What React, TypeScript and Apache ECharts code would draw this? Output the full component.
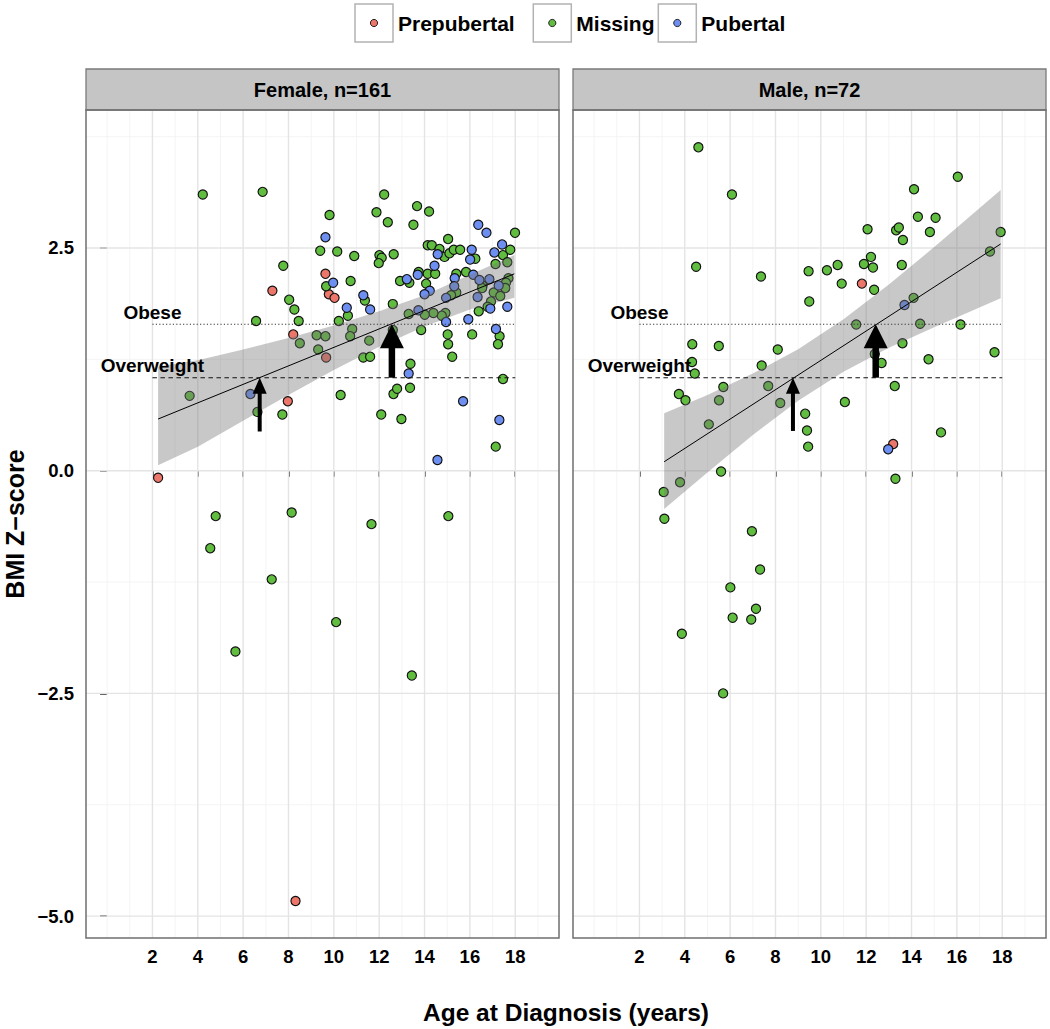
import React, { useEffect, useRef } from "react";
import * as echarts from "echarts";

// ---------- data ----------
const stageNames = ["Prepubertal", "Missing", "Pubertal"];
const stageColors = ["#EC7669", "#60BD3F", "#6D8FF2"];
const panelTitles = ["Female, n=161", "Male, n=72"];

const femalePrepubertal = [
  [9.63, 2.21], [7.29, 2.02], [9.78, 1.98], [10.03, 1.94], [8.21, 1.53],
  [9.66, 1.27], [7.97, 0.78], [2.25, -0.08], [8.31, -4.83],
];
const femaleMissing = [
  [4.22, 3.1], [6.86, 3.13], [9.81, 2.87], [9.4, 2.47], [7.77, 2.3], [9.66, 2.07], [8.03, 1.92], [8.26, 1.81],
  [8.45, 1.68], [6.57, 1.68], [8.5, 1.43], [9.24, 1.52], [9.63, 1.51], [9.31, 1.36], [3.64, 0.84], [6.63, 0.66],
  [7.73, 0.63], [4.79, -0.51], [4.55, -0.87], [8.14, -0.47], [11.66, -0.6], [15.05, -0.51], [17.14, 0.27],
  [7.26, -1.22], [10.1, -1.7], [5.66, -2.03], [13.44, -2.3],
  [12.22, 3.1], [11.88, 2.9], [12.38, 2.79], [13.67, 2.97], [14.2, 2.91], [13.51, 2.76], [10.15, 2.46],
  [10.9, 2.41], [12.01, 2.42], [12.11, 2.39], [11.98, 2.33], [12.64, 2.43], [10.74, 2.13], [11.37, 1.91],
  [10.62, 1.74], [10.22, 1.68], [10.81, 1.59], [10.72, 1.51], [11.56, 1.46], [11.3, 1.27], [11.6, 1.28],
  [12.6, 1.87], [12.6, 1.58], [10.3, 0.85], [12.09, 0.63], [12.63, 0.86], [12.79, 0.92], [12.98, 0.58],
  [13.38, 1.2], [13.36, 0.93], [12.92, 2.13], [13.33, 2.11], [13.74, 2.23], [14.14, 2.21], [14.47, 2.21],
  [14.07, 2.1], [14.14, 2.53], [14.32, 2.53], [14.66, 2.49], [15.04, 2.6], [14.88, 2.4], [15.1, 2.44],
  [15.29, 2.48], [15.57, 2.48], [16.24, 2.38], [17.99, 2.67], [17.46, 2.42], [17.78, 2.48], [17.13, 2.32],
  [17.65, 2.34], [15.4, 2.21], [15.4, 2.0], [15.17, 1.97], [15.83, 2.23], [16.56, 2.08], [16.54, 2.05],
  [17.7, 2.16], [17.59, 2.11], [17.56, 2.05], [17.05, 2.0], [17.34, 1.96], [16.93, 1.9], [16.78, 1.84],
  [16.39, 1.79], [16.1, 1.53], [15.02, 1.53], [15.04, 1.42], [15.22, 1.28], [14.92, 1.77], [14.76, 1.74],
  [14.39, 1.77], [14.01, 1.75], [13.3, 1.76], [13.85, 1.58], [17.31, 1.51], [17.24, 1.42], [17.46, 1.03],
];
const femalePubertal = [
  [9.63, 2.62], [6.32, 0.86], [14.57, 0.12], [9.97, 2.11], [11.3, 1.97], [11.6, 1.81], [10.57, 1.83],
  [13.3, 1.09], [13.22, 2.15], [13.7, 2.2], [14.23, 2.02], [14.0, 1.98], [14.44, 2.3], [14.58, 2.43],
  [16.08, 2.48], [16.01, 2.37], [16.37, 2.76], [16.73, 2.67], [17.42, 2.54], [17.08, 2.45], [15.33, 2.16],
  [15.31, 2.07], [14.95, 1.94], [16.15, 2.2], [16.42, 2.14], [16.86, 2.15], [17.27, 2.08], [16.34, 1.95],
  [16.9, 1.82], [17.65, 1.84], [15.93, 1.7], [14.95, 1.67], [13.73, 1.8], [17.15, 1.59], [15.7, 0.78],
  [17.3, 0.57],
];

const malePrepubertal = [[11.81, 2.1], [13.19, 0.3]];
const maleMissing = [
  [4.6, 3.63], [6.08, 3.1], [4.5, 2.29], [7.36, 2.18], [9.46, 2.24], [9.49, 1.9], [4.33, 1.42], [5.5, 1.4],
  [8.1, 1.36], [4.32, 1.22], [4.44, 1.09], [7.39, 1.18], [5.7, 0.94], [7.68, 0.95], [3.74, 0.86], [4.03, 0.79],
  [5.51, 0.79], [8.21, 0.76], [5.06, 0.52], [9.31, 0.64], [9.39, 0.45], [9.44, 0.27], [5.6, -0.01],
  [3.79, -0.13], [3.07, -0.24], [3.1, -0.54], [13.29, -0.09], [6.96, -0.68], [7.32, -1.11], [6.01, -1.31],
  [7.14, -1.55], [6.11, -1.65], [6.93, -1.67], [3.87, -1.83], [5.69, -2.5],
  [16.04, 3.3], [14.11, 3.16], [14.28, 2.85], [15.06, 2.84], [12.06, 2.71], [13.32, 2.7], [13.44, 2.73],
  [14.81, 2.68], [13.62, 2.59], [17.93, 2.68], [17.46, 2.46], [12.21, 2.4], [11.9, 2.32], [12.3, 2.28],
  [13.57, 2.31], [10.27, 2.25], [10.74, 2.31], [10.92, 2.1], [12.35, 2.03], [14.09, 1.94], [11.56, 1.64],
  [14.38, 1.65], [16.16, 1.64], [13.6, 1.43], [12.38, 1.31], [12.68, 1.21], [14.75, 1.25], [17.66, 1.33],
  [13.26, 0.95], [11.06, 0.77], [15.3, 0.43],
];
const malePubertal = [[13.69, 1.86], [12.97, 0.24]];

// linear fit (line) and its confidence band
const femaleFitX = [2.25, 17.96];
const femaleFitY = [0.58, 2.21];
const femaleBandX = [2.25, 4, 6, 8, 10, 12, 14, 16, 17.96];
const femaleBandLo = [0.06, 0.27, 0.56, 0.85, 1.13, 1.39, 1.62, 1.81, 1.94];
const femaleBandHi = [1.17, 1.24, 1.36, 1.49, 1.63, 1.79, 1.97, 2.2, 2.42];

const maleFitX = [3.09, 17.93];
const maleFitY = [0.1, 2.545];
const maleBandX = [3.09, 5, 7, 9, 11, 13, 15, 17.93];
const maleBandLo = [-0.43, -0.02, 0.4, 0.785, 1.11, 1.38, 1.61, 1.935];
const maleBandHi = [0.645, 0.85, 1.09, 1.363, 1.7, 2.09, 2.51, 3.15];

// reference thresholds
const obeseZ = 1.644;
const overweightZ = 1.044;
const refLineX = [2, 18];
const annotLabels = ["Obese", "Overweight"];
const annotX = [2, 2];
const annotY = [1.78, 1.18];

// arrows: [age, from z, to z]
const femaleArrows = [[6.73, 0.44, overweightZ], [12.56, overweightZ, obeseZ]];
const maleArrows = [[8.77, 0.446, overweightZ], [12.42, overweightZ, obeseZ]];

// axes
const xTicks = [2, 4, 6, 8, 10, 12, 14, 16, 18];
const xTickLabels = ["2", "4", "6", "8", "10", "12", "14", "16", "18"];
const xMinorGrid = [0, 1, 3, 5, 7, 9, 11, 13, 15, 17, 19];
const yTicks = [-5, -2.5, 0, 2.5];
const yTickLabels = ["\u22125.0", "\u22122.5", "0.0", "2.5"];
const yMinorGrid = [-3.75, -1.25, 1.25, 3.75];
const X_MIN = -0.93, X_MAX = 19.93, Y_MIN = -5.246, Y_MAX = 4.049;

const FONT = '"Liberation Sans", Arial, Helvetica, sans-serif';

// ---------- layout ----------
const PANEL_TOP = 110, PANEL_H = 828, PANEL_W = 473;
const PANEL_LEFT = [86, 573];
const STRIP_TOP = 69, STRIP_H = 41;

function buildOption() {
  const series: any[] = [];

  const vGrid = (gi: number, values: number[], color: string, width: number) => ({
    type: "custom", xAxisIndex: gi, yAxisIndex: gi, z: 1, silent: true, clip: true,
    data: values.map((v) => [v, 0]),
    renderItem: (_p: any, api: any) => {
      const v = api.value(0);
      const a = api.coord([v, Y_MIN]);
      const b = api.coord([v, Y_MAX]);
      return { type: "line", shape: { x1: a[0], y1: a[1], x2: b[0], y2: b[1] }, style: { stroke: color, lineWidth: width } };
    },
  });
  const hGrid = (gi: number, values: number[], color: string, width: number) => ({
    type: "custom", xAxisIndex: gi, yAxisIndex: gi, z: 1, silent: true, clip: true,
    data: values.map((v) => [0, v]),
    renderItem: (_p: any, api: any) => {
      const v = api.value(1);
      const a = api.coord([X_MIN, v]);
      const b = api.coord([X_MAX, v]);
      return { type: "line", shape: { x1: a[0], y1: a[1], x2: b[0], y2: b[1] }, style: { stroke: color, lineWidth: width } };
    },
  });

  const panels = [
    { groups: [femalePrepubertal, femaleMissing, femalePubertal], fitX: femaleFitX, fitY: femaleFitY,
      bandX: femaleBandX, bandLo: femaleBandLo, bandHi: femaleBandHi, arrows: femaleArrows },
    { groups: [malePrepubertal, maleMissing, malePubertal], fitX: maleFitX, fitY: maleFitY,
      bandX: maleBandX, bandLo: maleBandLo, bandHi: maleBandHi, arrows: maleArrows },
  ];

  panels.forEach((p, gi) => {
    series.push(vGrid(gi, xMinorGrid, "#f1f1f1", 0.8));
    series.push(hGrid(gi, yMinorGrid, "#f1f1f1", 0.8));
    series.push(vGrid(gi, xTicks, "#e4e4e4", 1.4));
    series.push(hGrid(gi, yTicks, "#e4e4e4", 1.4));

    p.groups.forEach((g, k) => {
      series.push({
        type: "scatter", name: stageNames[k], xAxisIndex: gi, yAxisIndex: gi, z: 3,
        data: g, symbol: "circle", symbolSize: 9.2,
        itemStyle: { color: stageColors[k], borderColor: "#111", borderWidth: 1.15, opacity: 1 },
      });
    });

    // confidence band (drawn above points, semi-transparent)
    series.push({
      type: "custom", xAxisIndex: gi, yAxisIndex: gi, z: 4, silent: true, clip: true,
      data: p.bandX.map((x, i) => [x, p.bandLo[i], p.bandHi[i]]),
      renderItem: (params: any, api: any) => {
        if (params.dataIndex !== 0) return null;
        const pts: number[][] = [];
        for (let i = 0; i < p.bandX.length; i++) pts.push(api.coord([p.bandX[i], p.bandHi[i]]));
        for (let i = p.bandX.length - 1; i >= 0; i--) pts.push(api.coord([p.bandX[i], p.bandLo[i]]));
        return { type: "polygon", shape: { points: pts }, style: { fill: "rgba(118,118,118,0.4)" } };
      },
    });

    // fit line
    series.push({
      type: "line", xAxisIndex: gi, yAxisIndex: gi, z: 5, silent: true, symbol: "none",
      data: p.fitX.map((x, i) => [x, p.fitY[i]]),
      lineStyle: { color: "#000", width: 1 },
    });

    // thresholds
    series.push({
      type: "line", xAxisIndex: gi, yAxisIndex: gi, z: 5, silent: true, symbol: "none",
      data: refLineX.map((x) => [x, obeseZ]),
      lineStyle: { color: "#333", width: 1.1, type: [1.2, 2.2] },
    });
    series.push({
      type: "line", xAxisIndex: gi, yAxisIndex: gi, z: 5, silent: true, symbol: "none",
      data: refLineX.map((x) => [x, overweightZ]),
      lineStyle: { color: "#111", width: 1.1, type: [4.5, 3.5] },
    });

    // arrows
    series.push({
      type: "custom", xAxisIndex: gi, yAxisIndex: gi, z: 6, silent: true, clip: false,
      data: p.arrows,
      renderItem: (params: any, api: any) => {
        const x = api.value(0);
        const base = api.coord([x, api.value(1)]);
        const tip = api.coord([x, api.value(2)]);
        const big = params.dataIndex === 1;
        const shaft = big ? 6.5 : 4;
        const hw = big ? 24 : 14;
        const hh = big ? 24 : 16;
        return {
          type: "group",
          children: [
            { type: "rect", shape: { x: tip[0] - shaft / 2, y: tip[1] + hh - 1, width: shaft, height: base[1] - tip[1] - hh + 1 }, style: { fill: "#000" } },
            { type: "polygon", shape: { points: [[tip[0], tip[1]], [tip[0] - hw / 2, tip[1] + hh], [tip[0] + hw / 2, tip[1] + hh]] }, style: { fill: "#000" } },
          ],
        };
      },
    });

    // Obese / Overweight labels
    series.push({
      type: "custom", xAxisIndex: gi, yAxisIndex: gi, z: 6, silent: true, clip: false,
      data: annotX.map((x, i) => [x, annotY[i]]),
      renderItem: (params: any, api: any) => {
        const c = api.coord([api.value(0), api.value(1)]);
        return {
          type: "text", x: c[0], y: c[1],
          style: { text: annotLabels[params.dataIndex], fill: "#000", font: `bold 19px ${FONT}`, align: "center", verticalAlign: "middle" },
        };
      },
    });
  });

  const graphic: any[] = [];
  // strips
  PANEL_LEFT.forEach((l, i) => {
    graphic.push({ type: "rect", z: 50, shape: { x: l, y: STRIP_TOP, width: PANEL_W, height: STRIP_H }, style: { fill: "#c5c5c5", stroke: "#7a7a7a", lineWidth: 1.3 } });
    graphic.push({ type: "text", z: 51, x: l + PANEL_W / 2, y: STRIP_TOP + STRIP_H / 2 + 0.5, style: { text: panelTitles[i], fill: "#000", font: `bold 20px ${FONT}`, align: "center", verticalAlign: "middle" } });
    // panel border on top
    graphic.push({ type: "rect", z: 50, shape: { x: l, y: PANEL_TOP, width: PANEL_W, height: PANEL_H }, style: { fill: "none", stroke: "#6f6f6f", lineWidth: 1.5 } });
  });
  // legend
  const legendBoxX = [355, 533.3, 658.3];
  stageNames.forEach((n, i) => {
    const bx = legendBoxX[i];
    graphic.push({ type: "rect", z: 50, shape: { x: bx, y: 4, width: 38, height: 38 }, style: { fill: "#fff", stroke: "#b3b3b3", lineWidth: 1.5 } });
    graphic.push({ type: "circle", z: 51, shape: { cx: bx + 19, cy: 23, r: 3.6 }, style: { fill: stageColors[i], stroke: "#222", lineWidth: 1 } });
    graphic.push({ type: "text", z: 51, x: bx + 43, y: 23, style: { text: n, fill: "#000", font: `bold 21px ${FONT}`, align: "left", verticalAlign: "middle" } });
  });
  // axis titles
  graphic.push({ type: "text", z: 51, x: 566, y: 1012, style: { text: "Age at Diagnosis (years)", fill: "#000", font: `bold 24.5px ${FONT}`, align: "center", verticalAlign: "middle" } });
  graphic.push({ type: "text", z: 51, x: 15, y: 524, rotation: Math.PI / 2, style: { text: "BMI Z\u2212score", fill: "#000", font: `bold 25px ${FONT}`, align: "center", verticalAlign: "middle" } });

  const xAxis = PANEL_LEFT.map((_, gi) => ({
    type: "value", gridIndex: gi, min: X_MIN, max: X_MAX,
    axisLine: { show: false }, splitLine: { show: false },
    axisTick: { show: true, customValues: xTicks, length: 6, lineStyle: { color: "#333", width: 1.5 } },
    axisLabel: {
      show: true, customValues: xTicks, margin: 9, color: "#000", fontSize: 18.5, fontWeight: "bold", fontFamily: FONT,
      formatter: (v: number) => xTickLabels[xTicks.indexOf(v)] ?? "",
    },
  }));
  const yAxis = PANEL_LEFT.map((_, gi) => ({
    type: "value", gridIndex: gi, min: Y_MIN, max: Y_MAX,
    axisLine: { show: false }, splitLine: { show: false },
    axisTick: { show: gi === 0, customValues: yTicks, length: 7, lineStyle: { color: "#333", width: 1.5 } },
    axisLabel: {
      show: gi === 0, customValues: yTicks, margin: 12, color: "#000", fontSize: 18.5, fontWeight: "bold", fontFamily: FONT,
      formatter: (v: number) => yTickLabels[yTicks.indexOf(v)] ?? "",
    },
  }));

  return {
    animation: false,
    backgroundColor: "#fff",
    textStyle: { fontFamily: FONT },
    grid: PANEL_LEFT.map((l) => ({ left: l, top: PANEL_TOP, width: PANEL_W, height: PANEL_H, show: true, backgroundColor: "#fff", borderWidth: 0 })),
    xAxis, yAxis, series, graphic,
  };
}

export default function App() {
  const ref = useRef<HTMLDivElement>(null);
  useEffect(() => {
    if (!ref.current) return;
    const chart = echarts.init(ref.current, undefined, { renderer: "svg" });
    chart.setOption(buildOption() as any);
    return () => chart.dispose();
  }, []);
  return <div ref={ref} style={{ position: "absolute", left: 0, top: 0, width: 1050, height: 1029, background: "#fff" }} />;
}
